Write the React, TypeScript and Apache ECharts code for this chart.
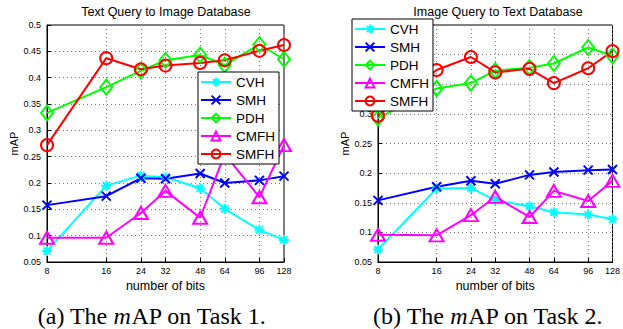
import React, { useEffect, useRef } from "react";
import * as echarts from "echarts";

const bits = [8, 16, 24, 32, 48, 64, 96, 128];
const methods = ["CVH", "SMH", "PDH", "CMFH", "SMFH"];

const task1CVH = [0.071, 0.195, 0.214, 0.211, 0.19, 0.151, 0.111, 0.092];
const task1SMH = [0.158, 0.175, 0.209, 0.208, 0.218, 0.2, 0.205, 0.213];
const task1PDH = [0.333, 0.382, 0.413, 0.433, 0.443, 0.424, 0.463, 0.435];
const task1CMFH = [0.096, 0.096, 0.143, 0.185, 0.134, 0.255, 0.173, 0.272];
const task1SMFH = [0.272, 0.437, 0.416, 0.423, 0.428, 0.433, 0.451, 0.462];

const task2CVH = [0.071, 0.174, 0.175, 0.154, 0.144, 0.134, 0.13, 0.122];
const task2SMH = [0.154, 0.177, 0.187, 0.182, 0.197, 0.202, 0.205, 0.206];
const task2PDH = [0.293, 0.343, 0.352, 0.373, 0.378, 0.385, 0.412, 0.398];
const task2CMFH = [0.096, 0.095, 0.129, 0.16, 0.126, 0.17, 0.153, 0.187];
const task2SMFH = [0.297, 0.374, 0.396, 0.37, 0.376, 0.352, 0.377, 0.406];

const FONT = "'Liberation Sans', Arial, Helvetica, sans-serif";
const SERIF = "'Liberation Serif', 'Times New Roman', serif";

const colors: Record<string, string> = {
  CVH: "#00ffff",
  SMH: "#0000ff",
  PDH: "#00ff00",
  CMFH: "#ff00ff",
  SMFH: "#ff0000",
};

const symbols: Record<string, any> = {
  CVH: { symbol: "path://M0,-10L0,10M-10,0L10,0M-7,-7L7,7M-7,7L7,-7", size: 10 },
  SMH: { symbol: "path://M-7,-7L7,7M-7,7L7,-7", size: 9 },
  PDH: { symbol: "diamond", size: [12, 15] },
  CMFH: { symbol: "triangle", size: [14, 12] },
  SMFH: { symbol: "circle", size: 12 },
};

function mkSeries(name: string, values: number[], idx: number) {
  const c = colors[name];
  const s = symbols[name];
  return {
    type: "line",
    name,
    xAxisIndex: idx,
    yAxisIndex: idx,
    data: bits.map((b, i) => [Math.log2(b), values[i]]),
    symbol: s.symbol,
    symbolSize: s.size,
    showAllSymbol: true,
    lineStyle: { color: c, width: 2 },
    itemStyle: { color: "rgba(0,0,0,0)", borderColor: c, borderWidth: 2 },
    emphasis: { disabled: true },
    z: 3,
  };
}

function xAxis(idx: number) {
  const ticks = bits.map((b) => Math.log2(b));
  return {
    type: "value",
    gridIndex: idx,
    min: 3,
    max: 7,
    name: "number of bits",
    nameLocation: "middle",
    nameGap: 15,
    nameTextStyle: { fontFamily: FONT, fontSize: 12.5, color: "#000" },
    axisLine: { show: true, lineStyle: { color: "#000", width: 1 } },
    axisTick: { show: true, inside: true, length: 4, customValues: ticks, lineStyle: { color: "#000" } },
    axisLabel: {
      customValues: ticks,
      formatter: (v: number) => String(Math.round(Math.pow(2, v))),
      fontFamily: FONT,
      fontSize: 9,
      color: "#000",
      margin: 4,
    },
    splitLine: { show: true, lineStyle: { color: "#777", type: [1, 3], width: 1 } },
  };
}

function yAxis(idx: number, max: number) {
  return {
    type: "value",
    gridIndex: idx,
    min: 0.05,
    max,
    interval: 0.05,
    name: "mAP",
    nameLocation: "middle",
    nameRotate: 90,
    nameGap: 27,
    nameTextStyle: { fontFamily: FONT, fontSize: 11, color: "#000" },
    axisLine: { show: true, lineStyle: { color: "#000", width: 1 } },
    axisTick: { show: true, inside: true, length: 4, lineStyle: { color: "#000" } },
    axisLabel: {
      formatter: (v: number) => String(+v.toFixed(2)),
      fontFamily: FONT,
      fontSize: 9,
      color: "#000",
      margin: 6,
    },
    splitLine: { show: true, lineStyle: { color: "#777", type: [1, 3], width: 1 } },
  };
}

function legend(left: number, top: number) {
  return {
    orient: "vertical",
    left,
    top,
    data: methods,
    itemWidth: 30,
    itemHeight: 11,
    itemGap: 4,
    padding: [3, 4, 3, 2],
    borderColor: "#000",
    borderWidth: 1,
    backgroundColor: "#fff",
    selectedMode: false,
    textStyle: { fontFamily: FONT, fontSize: 13.5, color: "#000", lineHeight: 14 },
    z: 10,
  };
}

export default function App() {
  const ref = useRef<HTMLDivElement>(null);
  useEffect(() => {
    if (!ref.current) return;
    const chart = echarts.init(ref.current, undefined, { renderer: "svg" });
    const option = {
      animation: false,
      backgroundColor: "#fff",
      grid: [
        { left: 47, top: 25, width: 237, height: 237, show: true, borderColor: "#000", borderWidth: 1, backgroundColor: "#fff" },
        { left: 378, top: 25, width: 238, height: 237, show: true, borderColor: "#000", borderWidth: 1, backgroundColor: "#fff" },
      ],
      xAxis: [xAxis(0), xAxis(1)],
      yAxis: [yAxis(0, 0.5), yAxis(1, 0.45)],
      legend: [legend(198, 72), legend(352, 19)],
      series: [
        mkSeries("CVH", task1CVH, 0),
        mkSeries("SMH", task1SMH, 0),
        mkSeries("PDH", task1PDH, 0),
        mkSeries("CMFH", task1CMFH, 0),
        mkSeries("SMFH", task1SMFH, 0),
        mkSeries("CVH", task2CVH, 1),
        mkSeries("SMH", task2SMH, 1),
        mkSeries("PDH", task2PDH, 1),
        mkSeries("CMFH", task2CMFH, 1),
        mkSeries("SMFH", task2SMFH, 1),
      ],
      graphic: [
        {
          type: "text",
          x: 166,
          y: 12,
          style: { text: "Text Query to Image Database", fontFamily: FONT, fontSize: 12.5, fill: "#000", textAlign: "center", textVerticalAlign: "middle" },
        },
        {
          type: "text",
          x: 498,
          y: 12,
          style: { text: "Image Query to Text Database", fontFamily: FONT, fontSize: 12.5, fill: "#000", textAlign: "center", textVerticalAlign: "middle" },
        },
        {
          type: "text",
          x: 152,
          y: 316,
          style: {
            text: "(a) The {i|m}AP on Task 1.",
            fontFamily: SERIF,
            fontSize: 24,
            fill: "#000",
            textAlign: "center",
            textVerticalAlign: "middle",
            rich: { i: { fontFamily: SERIF, fontSize: 24, fontStyle: "italic", fill: "#000" } },
          },
        },
        {
          type: "text",
          x: 488,
          y: 316,
          style: {
            text: "(b) The {i|m}AP on Task 2.",
            fontFamily: SERIF,
            fontSize: 24,
            fill: "#000",
            textAlign: "center",
            textVerticalAlign: "middle",
            rich: { i: { fontFamily: SERIF, fontSize: 24, fontStyle: "italic", fill: "#000" } },
          },
        },
      ],
    };
    chart.setOption(option as any);
    return () => chart.dispose();
  }, []);
  return (
    <div
      ref={ref}
      style={{ position: "fixed", left: 0, top: 0, width: 623, height: 329, background: "#fff" }}
    />
  );
}
